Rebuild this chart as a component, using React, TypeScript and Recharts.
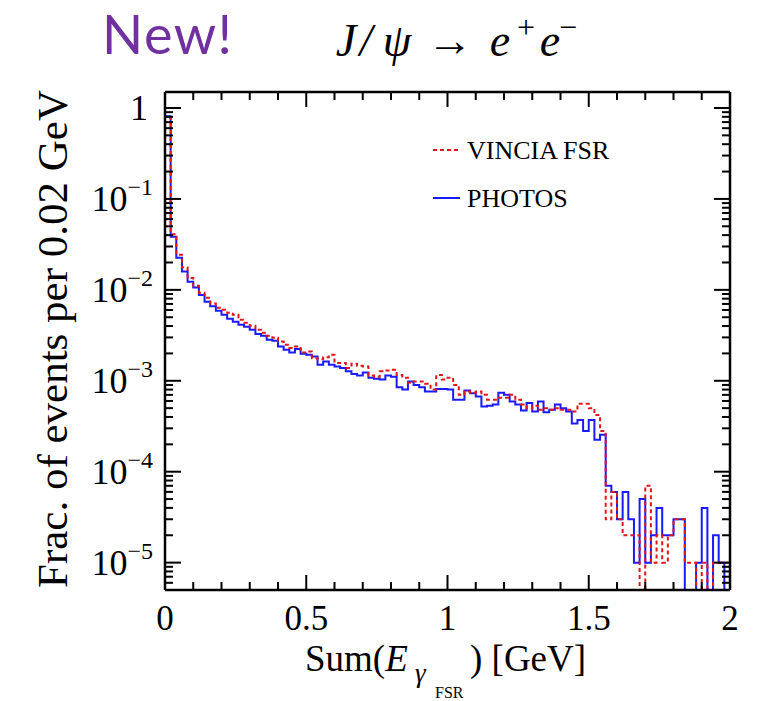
import React from 'react';
import { ComposedChart, Line, XAxis, YAxis, Legend } from 'recharts';

// ---------- data ----------
const BIN_WIDTH = 0.02; // GeV
const X_MIN = 0;
const X_MAX = 2;
const Y_MIN = 5e-6;
const Y_MAX = 1.5;

// Fraction of events per 0.02 GeV bin (100 bins, 0 -> 2 GeV); 0 = empty bin
const PHOTOS = [
  0.81, 0.0385, 0.0225, 0.0159, 0.0123, 0.0106, 0.0088, 0.0074, 0.0066, 0.00588,
  0.00531, 0.0048, 0.00445, 0.00412, 0.00392, 0.00363, 0.00328, 0.00312, 0.00282, 0.00275,
  0.00238, 0.00219, 0.00205, 0.00223, 0.00198, 0.00193, 0.00185, 0.0015, 0.00163, 0.0015,
  0.00144, 0.00138, 0.00127, 0.00119, 0.00114, 0.00123, 0.00108, 0.00105, 0.00103, 0.00114,
  0.00111, 0.00085, 0.0008, 0.00098, 0.0009, 0.00085, 0.00076, 0.00076, 0.00081, 0.00081,
  0.0008, 0.00062, 0.00062, 0.00078, 0.00073, 0.00067, 0.00052, 0.00053, 0.00055, 0.00074,
  0.0007, 0.00059, 0.00055, 0.00047, 0.00057, 0.00046, 0.00059, 0.00045, 0.00048, 0.00055,
  0.0005, 0.00046, 0.00034, 0.00037, 0.00028, 0.00037, 0.000225, 0.000255, 7e-5, 6e-5,
  3e-5, 6e-5, 3e-5, 1e-5, 5e-5, 1e-5, 2e-5, 4e-5, 2e-5, 2e-5,
  3e-5, 3e-5, 0, 0, 1e-5, 4e-5, 0, 2e-5, 1e-5, 0,
];

const VINCIA = [
  0.78, 0.041, 0.0243, 0.0176, 0.0135, 0.0111, 0.0093, 0.0082, 0.0071, 0.00634,
  0.00603, 0.00559, 0.00531, 0.00468, 0.00434, 0.00402, 0.00363, 0.00337, 0.00312, 0.00297,
  0.0027, 0.00249, 0.00229, 0.00238, 0.00205, 0.0021, 0.00177, 0.00173, 0.00182, 0.00193,
  0.00157, 0.00157, 0.00138, 0.00154, 0.00146, 0.00144, 0.00114, 0.00111, 0.00127, 0.0013,
  0.00132, 0.00116, 0.00108, 0.00095, 0.00098, 0.00098, 0.00093, 0.0008, 0.00116, 0.00103,
  0.00108, 0.0009, 0.0007, 0.00076, 0.00074, 0.00076, 0.0007, 0.00062, 0.00062, 0.00065,
  0.00065, 0.0007, 0.00062, 0.00055, 0.0005, 0.00053, 0.00048, 0.0005, 0.00048, 0.0005,
  0.00048, 0.00048, 0.00046, 0.00056, 0.00056, 0.0005, 0.00042, 0.00028, 3e-5, 6e-5,
  3e-5, 2e-5, 2e-5, 2e-5, 0, 7e-5, 1e-5, 2e-5, 1e-5, 2e-5,
  3e-5, 3e-5, 1e-5, 1e-5, 0, 1e-5, 0, 1e-5, 1e-5, 1e-5,
];

const X_TICKS = [0, 0.1, 0.2, 0.3, 0.4, 0.5, 0.6, 0.7, 0.8, 0.9, 1, 1.1, 1.2, 1.3, 1.4, 1.5, 1.6, 1.7, 1.8, 1.9, 2];
const X_TICK_LABELS: Record<string, string> = { '0': '0', '0.5': '0.5', '1': '1', '1.5': '1.5', '2': '2' };
const Y_DECADES = [1e-6, 1e-5, 1e-4, 1e-3, 1e-2, 1e-1, 1];
const Y_MULTIPLIERS = [1, 2, 3, 4, 5, 6, 7, 8, 9];

const SERIES_NAMES = { vincia: 'VINCIA FSR', photos: 'PHOTOS' };
const LEGEND_ORDER = ['VINCIA FSR', 'PHOTOS'];

const TITLE_NEW = 'New!';
const X_TITLE = { main: 'Sum(', italic: 'E', sub: 'γ', subsub: 'FSR', tail: ') [GeV]' };
const Y_TITLE = 'Frac. of events per 0.02 GeV';

// ---------- styles / layout ----------
const W = 769;
const H = 701;
const PLOT_LEFT = 165;
const PLOT_RIGHT = 730;
const PLOT_TOP = 92;
const PLOT_BOTTOM = 590;
const SERIF = "'Liberation Serif', 'Times New Roman', serif";
const serifStyle = { fontFamily: SERIF };
const RED = '#e0161b';
const BLUE = '#1a1aff';
const STYLE: Record<string, { color: string; dash?: string }> = {
  'VINCIA FSR': { color: RED, dash: '4 3' },
  PHOTOS: { color: BLUE },
};

// ---------- table ----------
const rows: { x: number; photos: number; vincia: number }[] = [];
rows.push({ x: X_MIN, photos: Y_MIN, vincia: Y_MIN });
PHOTOS.forEach((p, i) => {
  const v = VINCIA[i];
  rows.push({
    x: Number((X_MIN + i * BIN_WIDTH).toFixed(2)),
    photos: p > 0 ? p : Y_MIN,
    vincia: v > 0 ? v : Y_MIN,
  });
});
{
  const lp = PHOTOS[PHOTOS.length - 1];
  const lv = VINCIA[VINCIA.length - 1];
  rows.push({ x: X_MAX, photos: lp > 0 ? lp : Y_MIN, vincia: lv > 0 ? lv : Y_MIN });
  rows.push({ x: X_MAX, photos: Y_MIN, vincia: Y_MIN });
}

const Y_TICKS: number[] = [];
Y_DECADES.forEach((d) => {
  Y_MULTIPLIERS.forEach((m) => {
    const t = m * d;
    if (t > Y_MIN * 1.0001 && t <= Y_MAX) Y_TICKS.push(t);
  });
});

const isXMajor = (v: number) => Math.abs(v * 2 - Math.round(v * 2)) < 1e-6;
const isYMajor = (v: number) => {
  const e = Math.log10(v);
  return Math.abs(e - Math.round(e)) < 1e-6;
};

// ---------- tick renderers ----------
const XTickBottom = (props: any) => {
  const { x, payload } = props;
  const v = payload.value as number;
  const major = isXMajor(v);
  return (
    <g>
      <line x1={x} x2={x} y1={PLOT_BOTTOM} y2={PLOT_BOTTOM - (major ? 15 : 8)} stroke="#000" strokeWidth={2} />
      {major && (
        <text x={x} y={PLOT_BOTTOM + 40} textAnchor="middle" style={serifStyle} fontSize={35} fill="#000">
          {X_TICK_LABELS[String(v)] ?? String(v)}
        </text>
      )}
    </g>
  );
};

const XTickTop = (props: any) => {
  const { x, payload } = props;
  const major = isXMajor(payload.value as number);
  return <line x1={x} x2={x} y1={PLOT_TOP} y2={PLOT_TOP + (major ? 15 : 8)} stroke="#000" strokeWidth={2} />;
};

const YTickLeft = (props: any) => {
  const { y, payload } = props;
  const v = payload.value as number;
  const major = isYMajor(v);
  const e = Math.round(Math.log10(v));
  return (
    <g>
      <line x1={PLOT_LEFT} x2={PLOT_LEFT + (major ? 16 : 8)} y1={y} y2={y} stroke="#000" strokeWidth={2} />
      {major && (
        <text x={e === 0 ? 148 : 153} y={y + 12} textAnchor="end" style={serifStyle} fontSize={36} fill="#000">
          {e === 0 ? (
            '1'
          ) : (
            <>
              <tspan>10</tspan>
              <tspan fontSize={24} dy={-16}>{'\u2212' + String(-e)}</tspan>
            </>
          )}
        </text>
      )}
    </g>
  );
};

const YTickRight = (props: any) => {
  const { y, payload } = props;
  const major = isYMajor(payload.value as number);
  return <line x1={PLOT_RIGHT} x2={PLOT_RIGHT - (major ? 16 : 8)} y1={y} y2={y} stroke="#000" strokeWidth={2} />;
};

// ---------- axis titles ----------
const XTitle = () => (
  <text x={305} y={671} style={serifStyle} fontSize={37} fill="#000">
    {X_TITLE.main}
    <tspan fontStyle="italic">{X_TITLE.italic}</tspan>
    <tspan fontStyle="italic" fontSize={27} x={415} y={682}>{X_TITLE.sub}</tspan>
    <tspan fontSize={16} x={435} y={698}>{X_TITLE.subsub}</tspan>
    <tspan x={470} y={671}>{X_TITLE.tail}</tspan>
  </text>
);

const YTitle = () => (
  <text
    x={67}
    y={339}
    transform="rotate(-90, 67, 339)"
    textAnchor="middle"
    style={serifStyle}
    fontSize={43}
    fill="#000"
  >
    {Y_TITLE}
  </text>
);

// ---------- legend ----------
const renderLegend = (props: any) => {
  const items = [...(props.payload || [])].sort(
    (a: any, b: any) => LEGEND_ORDER.indexOf(a.value) - LEGEND_ORDER.indexOf(b.value)
  );
  return (
    <svg width={200} height={92} style={{ display: 'block' }}>
      {items.map((it: any, i: number) => {
        const st = STYLE[it.value] || { color: it.color };
        const cy = 22 + 48 * i;
        return (
          <g key={it.value}>
            <line x1={5} x2={32} y1={cy} y2={cy} stroke={st.color} strokeWidth={2} strokeDasharray={st.dash} />
            <text x={39} y={cy + 9} style={serifStyle} fontSize={26} fill="#000">
              {it.value}
            </text>
          </g>
        );
      })}
    </svg>
  );
};

// ---------- app ----------
export default function App() {
  return (
    <div style={{ position: 'absolute', left: 0, top: 0, width: W, height: H, background: '#fff' }}>
      <ComposedChart
        width={W}
        height={H}
        data={rows}
        margin={{ top: PLOT_TOP - 10, left: PLOT_LEFT - 60, right: W - PLOT_RIGHT - 10, bottom: H - PLOT_BOTTOM - 60 }}
      >
        <XAxis
          dataKey="x"
          type="number"
          domain={[X_MIN, X_MAX]}
          ticks={X_TICKS}
          interval={0}
          height={60}
          tickLine={false}
          tick={<XTickBottom />}
          axisLine={{ stroke: '#000', strokeWidth: 2.5 }}
          allowDataOverflow
          label={<XTitle />}
        />
        <XAxis
          xAxisId="top"
          orientation="top"
          dataKey="x"
          type="number"
          domain={[X_MIN, X_MAX]}
          ticks={X_TICKS}
          interval={0}
          height={10}
          tickLine={false}
          tick={<XTickTop />}
          axisLine={{ stroke: '#000', strokeWidth: 2.5 }}
          allowDataOverflow
        />
        <YAxis
          scale="log"
          type="number"
          domain={[Y_MIN, Y_MAX]}
          ticks={Y_TICKS}
          interval={0}
          width={60}
          tickLine={false}
          tick={<YTickLeft />}
          axisLine={{ stroke: '#000', strokeWidth: 2.5 }}
          allowDataOverflow
          label={<YTitle />}
        />
        <YAxis
          yAxisId="right"
          orientation="right"
          scale="log"
          type="number"
          domain={[Y_MIN, Y_MAX]}
          ticks={Y_TICKS}
          interval={0}
          width={10}
          tickLine={false}
          tick={<YTickRight />}
          axisLine={{ stroke: '#000', strokeWidth: 2.5 }}
          allowDataOverflow
        />
        <Line
          dataKey="photos"
          name={SERIES_NAMES.photos}
          type="stepAfter"
          stroke={BLUE}
          strokeWidth={2}
          dot={false}
          activeDot={false}
          isAnimationActive={false}
        />
        <Line
          dataKey="vincia"
          name={SERIES_NAMES.vincia}
          type="stepAfter"
          stroke={RED}
          strokeWidth={2}
          strokeDasharray="4 3"
          dot={false}
          activeDot={false}
          isAnimationActive={false}
        />
        <Legend
          layout="vertical"
          align="center"
          verticalAlign="middle"
          content={renderLegend}
          wrapperStyle={{ position: 'absolute', left: 428, top: 128, width: 200, height: 92 }}
        />
      </ComposedChart>
      <svg
        width={W}
        height={90}
        style={{ position: 'absolute', left: 0, top: 0, pointerEvents: 'none' }}
      >
        <text
          x={102}
          y={54}
          style={{ fontFamily: "Lato, 'Open Sans', sans-serif" }}
          fontSize={54}
          letterSpacing={1.5}
          fill="#7030A0"
        >
          {TITLE_NEW}
        </text>
        <text y={56} style={serifStyle} fontSize={46} fill="#000" textAnchor="middle">
          <tspan x={346} fontStyle="italic">J</tspan>
          <tspan x={366} fontStyle="italic">/</tspan>
          <tspan x={397} fontStyle="italic">ψ</tspan>
          <tspan x={450}>{'\u2192'}</tspan>
          <tspan x={500} fontStyle="italic">e</tspan>
          <tspan x={526} y={38} fontSize={32}>+</tspan>
          <tspan x={550} y={56} fontStyle="italic">e</tspan>
          <tspan x={568} y={38} fontSize={32}>{'\u2212'}</tspan>
        </text>
      </svg>
    </div>
  );
}
